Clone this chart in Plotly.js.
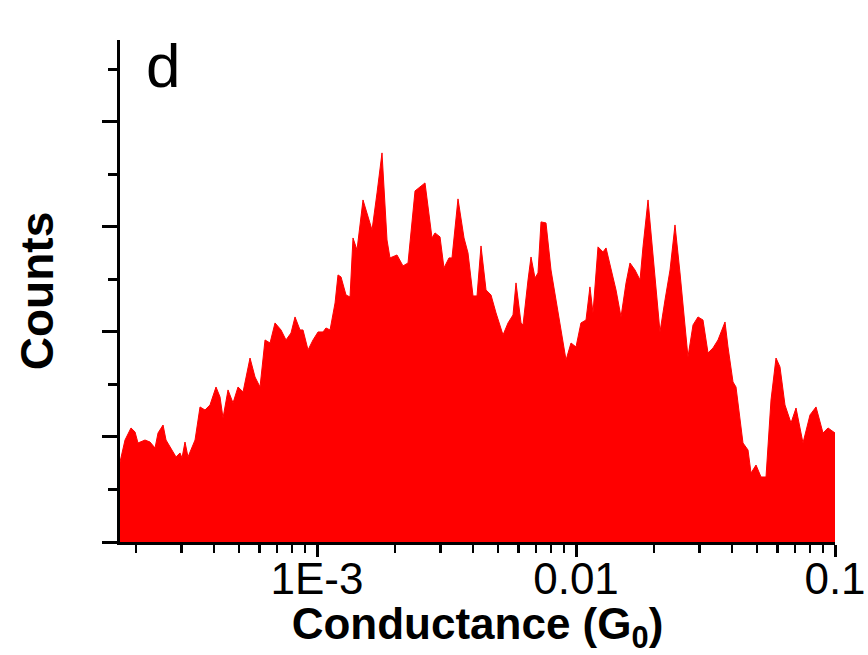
<!DOCTYPE html>
<html>
<head>
<meta charset="utf-8">
<script src="https://cdn.plot.ly/plotly-3.0.1.min.js"></script>
<style>html,body{margin:0;padding:0;background:#fff;}#chart{width:868px;height:655px;}</style>
</head>
<body>
<div id="chart"></div>
<script>
// Conductance (G0)
var conductance = [
  1.735e-4, 1.814e-4, 1.913e-4, 1.983e-4, 2.036e-4, 2.167e-4, 2.266e-4, 2.369e-4, 2.433e-4, 2.544e-4,
  2.612e-4, 2.731e-4, 2.855e-4, 2.958e-4, 3.011e-4, 3.092e-4, 3.176e-4, 3.381e-4, 3.534e-4, 3.694e-4,
  3.862e-4, 4.074e-4, 4.222e-4, 4.336e-4, 4.533e-4, 4.739e-4, 4.955e-4, 5.181e-4, 5.512e-4, 5.763e-4,
  6.025e-4, 6.299e-4, 6.586e-4, 6.884e-4, 7.261e-4, 7.591e-4, 7.936e-4, 8.224e-4, 8.597e-4, 8.829e-4,
  9.232e-4, 9.652e-4, 1.009e-3, 1.055e-3, 1.083e-3, 1.123e-3, 1.174e-3, 1.205e-3, 1.238e-3, 1.294e-3,
  1.341e-3, 1.377e-3, 1.427e-3, 1.505e-3, 1.574e-3, 1.631e-3, 1.705e-3, 1.782e-3, 1.863e-3, 1.913e-3,
  2.036e-3, 2.148e-3, 2.246e-3, 2.390e-3, 2.612e-3, 2.780e-3, 2.855e-3, 2.985e-3, 3.092e-3, 3.233e-3,
  3.320e-3, 3.502e-3, 3.695e-3, 3.828e-3, 4.003e-3, 4.147e-3, 4.297e-3, 4.493e-3, 4.697e-3, 4.911e-3,
  5.226e-3, 5.464e-3, 5.711e-3, 5.866e-3, 6.133e-3, 6.243e-3, 6.527e-3, 6.703e-3, 6.945e-3, 7.133e-3,
  7.326e-3, 7.659e-3, 8.007e-3, 8.522e-3, 9.150e-3, 9.566e-3, 1.000e-2, 1.045e-2, 1.093e-2, 1.132e-2,
  1.163e-2, 1.216e-2, 1.271e-2, 1.306e-2, 1.365e-2, 1.427e-2, 1.492e-2, 1.560e-2, 1.616e-2, 1.690e-2,
  1.767e-2, 1.814e-2, 1.897e-2, 1.983e-2, 2.110e-2, 2.206e-2, 2.307e-2, 2.411e-2, 2.521e-2, 2.706e-2,
  2.830e-2, 2.958e-2, 3.092e-2, 3.234e-2, 3.381e-2, 3.534e-2, 3.761e-2, 3.862e-2, 4.038e-2, 4.147e-2,
  4.413e-2, 4.614e-2, 4.740e-2, 4.955e-2, 5.180e-2, 5.415e-2, 5.661e-2, 5.919e-2, 6.132e-2, 6.410e-2,
  6.763e-2, 7.071e-2, 7.523e-2, 8.007e-2, 8.447e-2, 8.989e-2, 9.397e-2, 1.000e-1
];
// Counts (arbitrary units)
var counts = [
  0.762, 0.971, 1.086, 1.048, 0.943, 0.971, 0.952, 0.895, 1.038, 1.114,
  0.971, 0.895, 0.810, 0.848, 0.800, 0.952, 0.810, 0.971, 1.286, 1.257,
  1.305, 1.476, 1.381, 1.181, 1.448, 1.324, 1.476, 1.429, 1.752, 1.571,
  1.476, 1.924, 1.895, 2.086, 2.019, 1.924, 1.990, 2.143, 2.019, 2.019,
  1.829, 1.924, 2.000, 2.000, 2.038, 2.019, 2.276, 2.543, 2.524, 2.352,
  2.333, 2.895, 2.781, 3.257, 3.095, 2.971, 3.324, 3.705, 2.876, 2.705,
  2.733, 2.629, 2.657, 3.343, 3.419, 2.895, 2.943, 2.905, 2.610, 2.705,
  2.705, 3.267, 2.895, 2.752, 2.343, 2.343, 2.819, 2.400, 2.352, 2.181,
  1.971, 2.086, 2.162, 2.467, 2.086, 2.067, 2.495, 2.714, 2.514, 2.562,
  3.048, 3.038, 2.590, 2.181, 1.733, 1.895, 1.857, 2.086, 2.114, 2.429,
  2.181, 2.810, 2.762, 2.800, 2.590, 2.400, 2.143, 2.467, 2.657, 2.590,
  2.495, 2.810, 3.257, 2.714, 2.000, 2.305, 2.590, 3.019, 2.562, 1.762,
  2.067, 2.143, 2.114, 1.800, 1.848, 1.924, 2.095, 1.857, 1.524, 1.476,
  0.943, 0.876, 0.657, 0.733, 0.619, 0.619, 1.352, 1.752, 1.667, 1.305,
  1.133, 1.276, 0.943, 1.210, 1.286, 1.038, 1.086, 1.038
];
var xTickVals = [0.001, 0.01, 0.1];
var xTickText = ['1E-3', '0.01', '0.1'];
var xMinorVals = [2e-4,3e-4,4e-4,5e-4,6e-4,7e-4,8e-4,9e-4,
                  2e-3,3e-3,4e-3,5e-3,6e-3,7e-3,8e-3,9e-3,
                  2e-2,3e-2,4e-2,5e-2,6e-2,7e-2,8e-2,9e-2];

var trace = {
  x: conductance, y: counts, type: 'scatter', mode: 'lines',
  fill: 'tozeroy', fillcolor: '#ff0000',
  line: {color: '#ff0000', width: 1, shape: 'linear'},
  hoverinfo: 'x+y'
};

var layout = {
  width: 868, height: 655,
  margin: {l: 120, r: 33, t: 40, b: 113},
  paper_bgcolor: '#ffffff', plot_bgcolor: '#ffffff',
  showlegend: false,
  font: {family: 'Liberation Sans, Arial, sans-serif', color: '#000'},
  xaxis: {
    type: 'log', range: [Math.log10(1.735e-4), -1],
    showgrid: false, zeroline: false,
    showline: true, linecolor: '#000', linewidth: 3,
    ticks: 'outside', ticklen: 12, tickwidth: 3, tickcolor: '#000',
    tickmode: 'array', tickvals: xTickVals, ticktext: xTickText,
    ticklabelstandoff: -16,
    tickfont: {size: 44, family: 'Liberation Sans, Arial, sans-serif', color: '#000'},
    minor: {tickmode: 'array', tickvals: xMinorVals, ticks: 'outside', ticklen: 8, tickwidth: 2.5, tickcolor: '#000', showgrid: false},
    title: {text: '<b>Conductance (G<sub>0</sub>)</b>', font: {size: 44, family: 'Liberation Sans, Arial, sans-serif', color: '#000'}, standoff: 2},
    automargin: false
  },
  yaxis: {
    range: [0, 4.78],
    showgrid: false, zeroline: false,
    showline: true, linecolor: '#000', linewidth: 3,
    ticks: 'outside', ticklen: 15, tickwidth: 3, tickcolor: '#000',
    tickmode: 'linear', tick0: 0, dtick: 1,
    showticklabels: false,
    minor: {tickmode: 'linear', tick0: 0.5, dtick: 1, ticks: 'outside', ticklen: 9, tickwidth: 2.5, tickcolor: '#000', showgrid: false},
    title: {text: '<b>Counts</b>', font: {size: 46, family: 'Liberation Sans, Arial, sans-serif', color: '#000'}, standoff: 34},
    automargin: false
  },
  annotations: [{
    text: 'd', xref: 'paper', yref: 'paper', x: 0.034, y: 0.95,
    xanchor: 'left', yanchor: 'middle', showarrow: false,
    font: {size: 62, family: 'Liberation Sans, Arial, sans-serif', color: '#000'}
  }]
};

Plotly.newPlot('chart', [trace], layout, {displayModeBar: false, staticPlot: true});
</script>
</body>
</html>
